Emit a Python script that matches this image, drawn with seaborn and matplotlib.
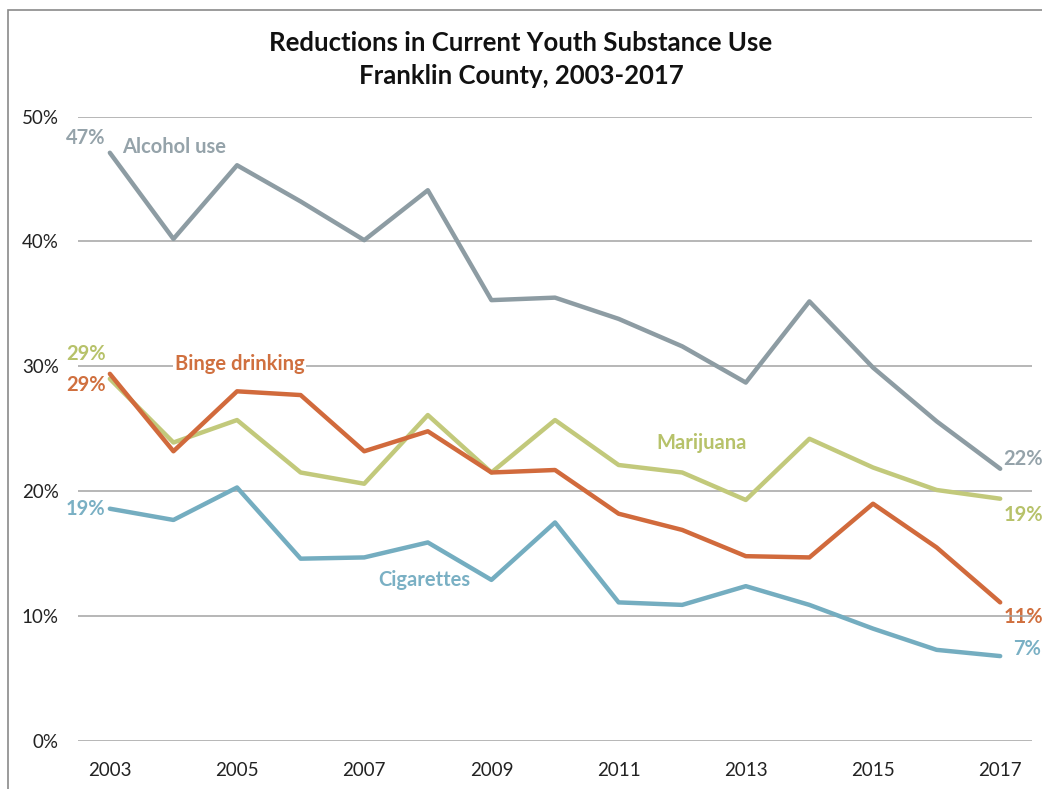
import matplotlib
matplotlib.use("Agg")
import matplotlib.pyplot as plt
from matplotlib.patches import Rectangle
import seaborn as sns
import pandas as pd

years = list(range(2003, 2018))
alcohol = [47.1, 40.2, 46.1, 43.2, 40.1, 44.1, 35.3, 35.5, 33.8, 31.6, 28.7, 35.2, 29.9, 25.6, 21.8]
marijuana = [29.0, 23.9, 25.7, 21.5, 20.6, 26.1, 21.5, 25.7, 22.1, 21.5, 19.3, 24.2, 21.9, 20.1, 19.4]
binge = [29.4, 23.2, 28.0, 27.7, 23.2, 24.8, 21.5, 21.7, 18.2, 16.9, 14.8, 14.7, 19.0, 15.5, 11.1]
cigarettes = [18.6, 17.7, 20.3, 14.6, 14.7, 15.9, 12.9, 17.5, 11.1, 10.9, 12.4, 10.9, 9.0, 7.3, 6.8]

series_names = ["Alcohol use", "Marijuana", "Binge drinking", "Cigarettes"]
start_labels = ["47%", "29%", "29%", "19%"]
end_labels = ["22%", "19%", "11%", "7%"]
y_ticks = [0, 10, 20, 30, 40, 50]
x_ticks = [2003, 2005, 2007, 2009, 2011, 2013, 2015, 2017]
title_lines = ["Reductions in Current Youth Substance Use", "Franklin County, 2003-2017"]

line_colors = {
    "Alcohol use": "#8D9CA3",
    "Marijuana": "#C2C97B",
    "Binge drinking": "#D16A3C",
    "Cigarettes": "#74ADC0",
}
text_colors = {
    "Alcohol use": "#95A3AA",
    "Marijuana": "#B7C26A",
    "Binge drinking": "#D0703F",
    "Cigarettes": "#7AB0C4",
}

values = [alcohol, marijuana, binge, cigarettes]
df = pd.DataFrame({
    "year": years * len(series_names),
    "pct": [v for s in values for v in s],
    "series": [n for n in series_names for _ in years],
})

sns.set_style("white")
plt.rcParams["font.family"] = ["Lato", "DejaVu Sans"]

fig = plt.figure(figsize=(10.42, 7.89), dpi=100)
ax = fig.add_axes([0.0749, 0.0608, 0.9155, 0.7915])

# frame around the chart area (left and top edges visible)
fig.patches.append(Rectangle((0.008, -0.1), 1.2, 1.087, transform=fig.transFigure,
                             fill=False, edgecolor="#8A8A8A", linewidth=1.2))

for y in y_ticks:
    ax.axhline(y, color="#A3A3A3", linewidth=1.1, zorder=1)

sns.lineplot(data=df, x="year", y="pct", hue="series", palette=line_colors,
             hue_order=series_names, linewidth=3.2, legend=False, ax=ax, zorder=3)

ax.set_xlim(2002.5, 2017.5)
ax.set_ylim(0, 50)
ax.set_xticks(x_ticks)
ax.set_yticks(y_ticks)
ax.set_yticklabels([f"{t}%" for t in y_ticks])
ax.tick_params(axis="y", length=0, pad=14, labelsize=13.5, labelcolor="#222222")
ax.tick_params(axis="x", length=0, pad=15, labelsize=13.5, labelcolor="#222222")
ax.set_xlabel("")
ax.set_ylabel("")
for s in ax.spines.values():
    s.set_visible(False)

bold = dict(fontsize=14.5, fontweight="bold")

# starting values
start_y = [48.3, 31.0, 28.5, 18.6]
for name, lab, yy in zip(series_names, start_labels, start_y):
    ax.text(2002.93, yy, lab, ha="right", va="center", color=text_colors[name], zorder=4, **bold)

# ending values
end_y = [22.6, 18.1, 9.95, 7.4]
end_x = [2017.05, 2017.05, 2017.05, 2017.2]
for name, lab, xx, yy in zip(series_names, end_labels, end_x, end_y):
    ax.text(xx, yy, lab, ha="left", va="center", color=text_colors[name],
            zorder=0.5 if lab == "11%" else 4, clip_on=False, **bold)

# series names
ax.text(2003.19, 47.6, "Alcohol use", ha="left", va="center", color=text_colors["Alcohol use"], zorder=4, **bold)
ax.text(2005.04, 30.2, "Binge drinking", ha="center", va="center", color=text_colors["Binge drinking"], zorder=4,
        bbox=dict(facecolor="white", edgecolor="none", pad=1.5), **bold)
ax.text(2007.94, 12.9, "Cigarettes", ha="center", va="center", color=text_colors["Cigarettes"], zorder=4, **bold)
ax.text(2012.31, 23.9, "Marijuana", ha="center", va="center", color=text_colors["Marijuana"], zorder=4, **bold)

fig.text(0.5, 0.946, title_lines[0], ha="center", va="center", fontsize=18.5, fontweight="bold", color="#111111")
fig.text(0.5, 0.904, title_lines[1], ha="center", va="center", fontsize=18.5, fontweight="bold", color="#111111")

fig.savefig("out.png", dpi=100, facecolor="white")
